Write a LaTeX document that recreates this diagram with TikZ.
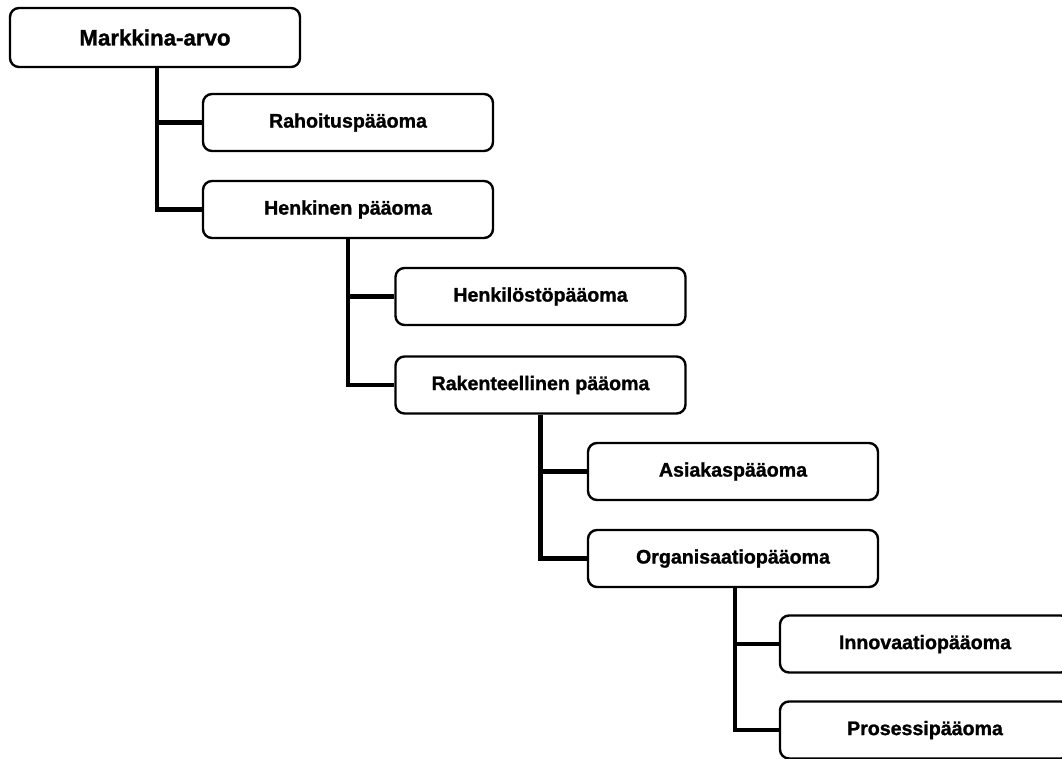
\documentclass[tikz,border=0pt]{standalone}
\usepackage{fontspec}
\setmainfont{Liberation Sans}
\newfontfamily\heavyfont[FakeBold=1.2]{Liberation Sans Bold}
\begin{document}
\begin{tikzpicture}[x=1pt, y=-1pt,
  capbox/.style={draw=black, line width=2.4pt, rounded corners=9pt, fill=white,
    minimum width=290pt, minimum height=57pt, inner sep=0pt,
    font=\fontsize{19.6}{22}\heavyfont},
  topbox/.style={capbox, minimum height=59pt, font=\fontsize{22.3}{24}\heavyfont},
  link/.style={draw=black, line width=4.2pt}]
  \clip (0,0) rectangle (1062,758);
  \fill[white] (0,0) rectangle (1062,758);

  % hierarchy of capital components
  \node[topbox] (mv) at (155,37.5) {Markkina-arvo};
  \node[capbox] (rp) at (348,122.5) {Rahoituspääoma};
  \node[capbox] (hp) at (348,209.5) {Henkinen pääoma};
  \node[capbox] (hs) at (540.5,296.5) {Henkilöstöpääoma};
  \node[capbox] (rk) at (540.5,385) {Rakenteellinen pääoma};
  \node[capbox] (ap) at (733,471.5) {Asiakaspääoma};
  \node[capbox] (op) at (733,558.5) {Organisaatiopääoma};
  \node[capbox] (ip) at (925,644) {Innovaatiopääoma};
  \node[capbox] (pp) at (925,730) {Prosessipääoma};

  % tree connectors
  \draw[link] ([xshift=2pt]mv.south) |- (rp.west);
  \draw[link] ([xshift=2pt]mv.south) |- (hp.west);
  \draw[link] (hp.south) |- (hs.west);
  \draw[link] (hp.south) |- (rk.west);
  \draw[link] (rk.south) |- (ap.west);
  \draw[link] (rk.south) |- (op.west);
  \draw[link] ([xshift=2pt]op.south) |- (ip.west);
  \draw[link] ([xshift=2pt]op.south) |- (pp.west);
\end{tikzpicture}
\end{document}
